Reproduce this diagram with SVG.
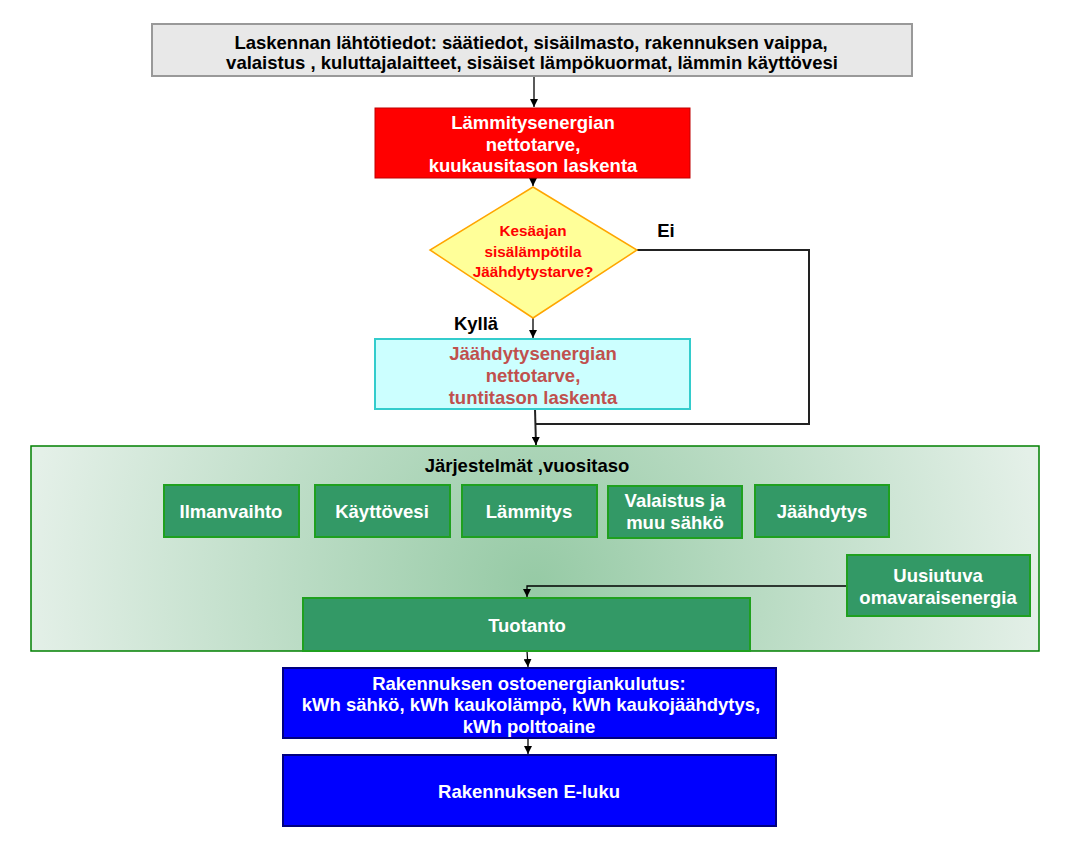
<svg xmlns="http://www.w3.org/2000/svg" width="1076" height="843" viewBox="0 0 1076 843">
<defs>
<marker id="ah" viewBox="0 0 10 10" refX="10" refY="5" markerWidth="8" markerHeight="8" markerUnits="userSpaceOnUse" orient="auto">
<path d="M0,0 L10,5 L0,10 z" fill="#000"/>
</marker>
<radialGradient id="gbg" gradientUnits="userSpaceOnUse" cx="535" cy="585" r="510">
<stop offset="0" stop-color="#96caa5"/>
<stop offset="1" stop-color="#e4f0e8"/>
</radialGradient>
<style>
text{font-family:"Liberation Sans",Arial,sans-serif;font-weight:bold;text-anchor:middle}
.t16{font-size:18.5px}
.w{fill:#fff}
.k{fill:#000}
.g{fill:#339966;stroke:#1fa01f;stroke-width:2}
.gt{font-size:18.5px;fill:#fff}
.d{font-size:15.3px;fill:#ff0000}
.c{fill:none;stroke:#000;stroke-width:1.3}
.c2{fill:none;stroke:#222;stroke-width:2}
</style>
</defs>
<g id="systems">
<rect x="31" y="446" width="1008" height="205" fill="url(#gbg)" stroke="#008000" stroke-width="1.5"/>
<text class="t16 k" x="527" y="472">Järjestelmät ,vuositaso</text>
</g>
<g id="connectors">
<line class="c" x1="534" y1="76" x2="534" y2="107" marker-end="url(#ah)"/>
<line class="c" x1="533" y1="178" x2="533" y2="186" marker-end="url(#ah)"/>
<line class="c" x1="533" y1="318" x2="533" y2="338" marker-end="url(#ah)"/>
<polyline class="c2" points="637,250 809,250 809,424 536,424"/>
<line class="c2" x1="535" y1="409" x2="536" y2="445" marker-end="url(#ah)"/>
<polyline class="c" points="847,586 527,586 527,597" marker-end="url(#ah)"/>
<line class="c" x1="527" y1="651" x2="528" y2="667" marker-end="url(#ah)"/>
<line class="c" x1="528" y1="738" x2="528" y2="754" marker-end="url(#ah)"/>
</g>
<g id="inputs">
<rect x="152" y="24" width="760" height="52" fill="#e8e8e8" stroke="#999" stroke-width="2"/>
<text class="t16 k" x="531" y="49">Laskennan lähtötiedot:  säätiedot, sisäilmasto, rakennuksen vaippa,</text>
<text class="t16 k" x="532" y="69">valaistus , kuluttajalaitteet, sisäiset lämpökuormat,  lämmin  käyttövesi</text>
</g>
<g id="heating">
<rect x="375" y="108" width="315" height="70" fill="#ff0000" stroke="#c00000" stroke-width="1"/>
<text class="t16 w" x="533" y="129">Lämmitysenergian</text>
<text class="t16 w" x="533" y="151">nettotarve,</text>
<text class="t16 w" x="533" y="172">kuukausitason laskenta</text>
</g>
<g id="decision">
<polygon points="533,187 637,250 533,318 430,250" fill="#ffff99" stroke="#ffa500" stroke-width="1.5"/>
<text class="d" x="533" y="236">Kesäajan</text>
<text class="d" x="533" y="257">sisälämpötila</text>
<text class="d" x="533" y="277">Jäähdytystarve?</text>
</g>
<g id="label-ei"><text class="t16 k" x="666" y="237">Ei</text></g>
<g id="label-kylla"><text class="t16 k" x="476" y="330">Kyllä</text></g>
<g id="cooling">
<rect x="375" y="339" width="315" height="70" fill="#ccffff" stroke="#33cccc" stroke-width="2"/>
<text class="t16" x="533" y="360" fill="#c0504d">Jäähdytysenergian</text>
<text class="t16" x="533" y="382" fill="#c0504d">nettotarve,</text>
<text class="t16" x="533" y="404" fill="#c0504d">tuntitason  laskenta</text>
</g>
<g id="ilmanvaihto"><rect class="g" x="164" y="485" width="135" height="52"/><text class="gt" x="231" y="518">Ilmanvaihto</text></g>
<g id="kayttovesi"><rect class="g" x="315" y="485" width="135" height="52"/><text class="gt" x="382" y="518">Käyttövesi</text></g>
<g id="lammitys"><rect class="g" x="462" y="485" width="135" height="52"/><text class="gt" x="529" y="518">Lämmitys</text></g>
<g id="valaistus"><rect class="g" x="608" y="486" width="134" height="52"/><text class="gt" x="675" y="507">Valaistus ja</text><text class="gt" x="675" y="529">muu sähkö</text></g>
<g id="jaahdytys"><rect class="g" x="755" y="485" width="134" height="52"/><text class="gt" x="822" y="518">Jäähdytys</text></g>
<g id="uusiutuva"><rect class="g" x="847" y="555" width="183" height="61"/><text class="gt" x="938" y="582">Uusiutuva</text><text class="gt" x="938" y="604">omavaraisenergia</text></g>
<g id="tuotanto"><rect class="g" x="303" y="598" width="447" height="53"/><text class="gt" x="527" y="632">Tuotanto</text></g>
<g id="ostoenergia">
<rect x="283" y="668" width="493" height="70" fill="#0000ff" stroke="#000080" stroke-width="2"/>
<text class="t16 w" x="529" y="690">Rakennuksen ostoenergiankulutus:</text>
<text class="t16 w" x="531" y="711">kWh sähkö, kWh kaukolämpö, kWh kaukojäähdytys,</text>
<text class="t16 w" x="529" y="733">kWh polttoaine</text>
</g>
<g id="eluku">
<rect x="283" y="755" width="493" height="71" fill="#0000ff" stroke="#000080" stroke-width="2"/>
<text class="t16 w" x="529" y="798">Rakennuksen E-luku</text>
</g>
</svg>
